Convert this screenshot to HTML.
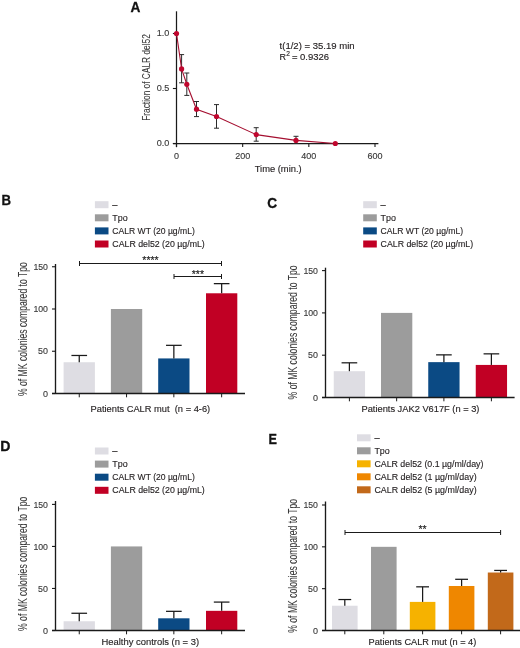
<!DOCTYPE html>
<html><head><meta charset="utf-8"><style>
html,body{margin:0;padding:0;background:#fff;}
body{width:520px;height:648px;overflow:hidden;}
svg{display:block;font-family:"Liberation Sans", sans-serif;will-change:transform;}
</style></head><body>
<svg width="520" height="648" viewBox="0 0 520 648">
<rect width="520" height="648" fill="#fff"/>
<text transform="translate(130.4,11.5) scale(0.95,1)" font-size="14.4" font-weight="bold" fill="#111" stroke="#111" stroke-width="0.3">A</text>
<line x1="176.5" y1="11.3" x2="176.5" y2="147.1" stroke="#1a1a1a" stroke-width="1.25"/>
<line x1="172.9" y1="143.5" x2="378.4" y2="143.5" stroke="#1a1a1a" stroke-width="1.25"/>
<line x1="172.9" y1="33.5" x2="176.5" y2="33.5" stroke="#1a1a1a" stroke-width="1.1"/>
<text x="169.4" y="36.1" font-size="9.7" text-anchor="end" fill="#3a3a3a" font-weight="normal" stroke="#3a3a3a" stroke-width="0.14" textLength="12.6" lengthAdjust="spacingAndGlyphs">1.0</text>
<line x1="172.9" y1="88.5" x2="176.5" y2="88.5" stroke="#1a1a1a" stroke-width="1.1"/>
<text x="169.4" y="91.1" font-size="9.7" text-anchor="end" fill="#3a3a3a" font-weight="normal" stroke="#3a3a3a" stroke-width="0.14" textLength="12.6" lengthAdjust="spacingAndGlyphs">0.5</text>
<line x1="172.9" y1="143.5" x2="176.5" y2="143.5" stroke="#1a1a1a" stroke-width="1.1"/>
<text x="169.4" y="146.1" font-size="9.7" text-anchor="end" fill="#3a3a3a" font-weight="normal" stroke="#3a3a3a" stroke-width="0.14" textLength="12.6" lengthAdjust="spacingAndGlyphs">0.0</text>
<line x1="176.5" y1="143.5" x2="176.5" y2="147.1" stroke="#1a1a1a" stroke-width="1.1"/>
<text x="176.5" y="158.6" font-size="9.7" text-anchor="middle" fill="#3a3a3a" font-weight="normal" stroke="#3a3a3a" stroke-width="0.14" textLength="5.0" lengthAdjust="spacingAndGlyphs">0</text>
<line x1="242.66666666666666" y1="143.5" x2="242.66666666666666" y2="147.1" stroke="#1a1a1a" stroke-width="1.1"/>
<text x="242.66666666666666" y="158.6" font-size="9.7" text-anchor="middle" fill="#3a3a3a" font-weight="normal" stroke="#3a3a3a" stroke-width="0.14" textLength="15.0" lengthAdjust="spacingAndGlyphs">200</text>
<line x1="308.8333333333333" y1="143.5" x2="308.8333333333333" y2="147.1" stroke="#1a1a1a" stroke-width="1.1"/>
<text x="308.8333333333333" y="158.6" font-size="9.7" text-anchor="middle" fill="#3a3a3a" font-weight="normal" stroke="#3a3a3a" stroke-width="0.14" textLength="15.0" lengthAdjust="spacingAndGlyphs">400</text>
<line x1="375.0" y1="143.5" x2="375.0" y2="147.1" stroke="#1a1a1a" stroke-width="1.1"/>
<text x="375.0" y="158.6" font-size="9.7" text-anchor="middle" fill="#3a3a3a" font-weight="normal" stroke="#3a3a3a" stroke-width="0.14" textLength="15.0" lengthAdjust="spacingAndGlyphs">600</text>
<text x="278.2" y="172.2" font-size="9.0" text-anchor="middle" fill="#231f20" font-weight="normal" stroke="#231f20" stroke-width="0.14" textLength="47" lengthAdjust="spacingAndGlyphs">Time (min.)</text>
<text transform="translate(150.4,77.5) rotate(-90)" font-size="10.6" text-anchor="middle" fill="#3a3a3a" stroke="#3a3a3a" stroke-width="0.08" textLength="86.7" lengthAdjust="spacingAndGlyphs">Fraction of CALR del52</text>
<line x1="181.6" y1="54.6" x2="181.6" y2="82.8" stroke="#2a2a2a" stroke-width="1.0"/>
<line x1="179.1" y1="54.6" x2="184.1" y2="54.6" stroke="#2a2a2a" stroke-width="1.0"/>
<line x1="179.1" y1="82.8" x2="184.1" y2="82.8" stroke="#2a2a2a" stroke-width="1.0"/>
<line x1="186.8" y1="73.0" x2="186.8" y2="95.4" stroke="#2a2a2a" stroke-width="1.0"/>
<line x1="184.3" y1="73.0" x2="189.3" y2="73.0" stroke="#2a2a2a" stroke-width="1.0"/>
<line x1="184.3" y1="95.4" x2="189.3" y2="95.4" stroke="#2a2a2a" stroke-width="1.0"/>
<line x1="196.5" y1="101.5" x2="196.5" y2="116.6" stroke="#2a2a2a" stroke-width="1.0"/>
<line x1="194.0" y1="101.5" x2="199.0" y2="101.5" stroke="#2a2a2a" stroke-width="1.0"/>
<line x1="194.0" y1="116.6" x2="199.0" y2="116.6" stroke="#2a2a2a" stroke-width="1.0"/>
<line x1="216.5" y1="104.6" x2="216.5" y2="128.2" stroke="#2a2a2a" stroke-width="1.0"/>
<line x1="214.0" y1="104.6" x2="219.0" y2="104.6" stroke="#2a2a2a" stroke-width="1.0"/>
<line x1="214.0" y1="128.2" x2="219.0" y2="128.2" stroke="#2a2a2a" stroke-width="1.0"/>
<line x1="256.2" y1="127.7" x2="256.2" y2="141.2" stroke="#2a2a2a" stroke-width="1.0"/>
<line x1="253.7" y1="127.7" x2="258.7" y2="127.7" stroke="#2a2a2a" stroke-width="1.0"/>
<line x1="253.7" y1="141.2" x2="258.7" y2="141.2" stroke="#2a2a2a" stroke-width="1.0"/>
<line x1="296.0" y1="136.3" x2="296.0" y2="143.5" stroke="#2a2a2a" stroke-width="1.0"/>
<line x1="293.5" y1="136.3" x2="298.5" y2="136.3" stroke="#2a2a2a" stroke-width="1.0"/>
<line x1="293.5" y1="143.5" x2="298.5" y2="143.5" stroke="#2a2a2a" stroke-width="1.0"/>
<polyline points="176.50,33.50 181.60,68.90 186.80,84.30 196.50,109.20 216.50,116.50 256.20,134.60 296.00,140.40 335.30,143.50" fill="none" stroke="#a50f30" stroke-width="1.1"/>
<circle cx="176.50" cy="33.50" r="2.6" fill="#c0062e"/>
<circle cx="181.60" cy="68.90" r="2.6" fill="#c0062e"/>
<circle cx="186.80" cy="84.30" r="2.6" fill="#c0062e"/>
<circle cx="196.50" cy="109.20" r="2.6" fill="#c0062e"/>
<circle cx="216.50" cy="116.50" r="2.6" fill="#c0062e"/>
<circle cx="256.20" cy="134.60" r="2.6" fill="#c0062e"/>
<circle cx="296.00" cy="140.40" r="2.6" fill="#c0062e"/>
<circle cx="335.30" cy="143.50" r="2.6" fill="#c0062e"/>
<text x="279.6" y="48.7" font-size="9.0" text-anchor="start" fill="#231f20" font-weight="normal" stroke="#231f20" stroke-width="0.14" textLength="75" lengthAdjust="spacingAndGlyphs">t(1/2) = 35.19 min</text>
<text x="279.6" y="59.7" font-size="9.0" text-anchor="start" fill="#231f20" font-weight="normal" stroke="#231f20" stroke-width="0.14">R</text>
<text x="286.2" y="56.1" font-size="6.6" text-anchor="start" fill="#231f20" font-weight="normal" stroke="#231f20" stroke-width="0.14">2</text>
<text x="291.9" y="59.7" font-size="9.0" text-anchor="start" fill="#231f20" font-weight="normal" stroke="#231f20" stroke-width="0.14" textLength="37.2" lengthAdjust="spacingAndGlyphs">= 0.9326</text>
<text transform="translate(1.4,204.9) scale(0.92,1)" font-size="14.4" font-weight="bold" fill="#111" stroke="#111" stroke-width="0.3">B</text>
<rect x="94.90" y="201.20" width="13.60" height="7.00" fill="#dedde3"/>
<text x="112.30000000000001" y="207.7" font-size="9.3" text-anchor="start" fill="#231f20" font-weight="normal" stroke="#231f20" stroke-width="0.14">–</text>
<rect x="94.90" y="214.30" width="13.60" height="7.00" fill="#9c9c9c"/>
<text x="112.30000000000001" y="220.79999999999998" font-size="9.3" text-anchor="start" fill="#231f20" font-weight="normal" stroke="#231f20" stroke-width="0.14" textLength="15.4" lengthAdjust="spacingAndGlyphs">Tpo</text>
<rect x="94.90" y="227.40" width="13.60" height="7.00" fill="#0b4a84"/>
<text x="112.30000000000001" y="233.89999999999998" font-size="9.3" text-anchor="start" fill="#231f20" font-weight="normal" stroke="#231f20" stroke-width="0.14" textLength="82.5" lengthAdjust="spacingAndGlyphs">CALR WT (20 µg/mL)</text>
<rect x="94.90" y="240.50" width="13.60" height="7.00" fill="#c10024"/>
<text x="112.30000000000001" y="247.0" font-size="9.3" text-anchor="start" fill="#231f20" font-weight="normal" stroke="#231f20" stroke-width="0.14" textLength="92.5" lengthAdjust="spacingAndGlyphs">CALR del52 (20 µg/mL)</text>
<rect x="63.60" y="362.24" width="31.30" height="31.26" fill="#dedde3"/>
<rect x="110.90" y="309.00" width="31.30" height="84.50" fill="#9c9c9c"/>
<rect x="158.20" y="358.43" width="31.30" height="35.07" fill="#0b4a84"/>
<rect x="206.00" y="293.28" width="31.30" height="100.22" fill="#c10024"/>
<line x1="79.25" y1="355.475" x2="79.25" y2="362.235" stroke="#1a1a1a" stroke-width="1.25"/>
<line x1="71.425" y1="355.475" x2="87.075" y2="355.475" stroke="#1a1a1a" stroke-width="1.25"/>
<line x1="173.85" y1="345.335" x2="173.85" y2="358.4325" stroke="#1a1a1a" stroke-width="1.25"/>
<line x1="166.025" y1="345.335" x2="181.67499999999998" y2="345.335" stroke="#1a1a1a" stroke-width="1.25"/>
<line x1="221.65" y1="283.65" x2="221.65" y2="293.283" stroke="#1a1a1a" stroke-width="1.25"/>
<line x1="213.82500000000002" y1="283.65" x2="229.475" y2="283.65" stroke="#1a1a1a" stroke-width="1.25"/>
<line x1="55.5" y1="264.0" x2="55.5" y2="393.5" stroke="#1a1a1a" stroke-width="1.35"/>
<line x1="52.0" y1="393.5" x2="245.0" y2="393.5" stroke="#1a1a1a" stroke-width="1.45"/>
<line x1="52.0" y1="266.75" x2="55.5" y2="266.75" stroke="#1a1a1a" stroke-width="1.1"/>
<text x="48.0" y="269.95" font-size="9.8" text-anchor="end" fill="#3a3a3a" font-weight="normal" stroke="#3a3a3a" stroke-width="0.14" textLength="14.6" lengthAdjust="spacingAndGlyphs">150</text>
<line x1="52.0" y1="309.0" x2="55.5" y2="309.0" stroke="#1a1a1a" stroke-width="1.1"/>
<text x="48.0" y="312.2" font-size="9.8" text-anchor="end" fill="#3a3a3a" font-weight="normal" stroke="#3a3a3a" stroke-width="0.14" textLength="14.6" lengthAdjust="spacingAndGlyphs">100</text>
<line x1="52.0" y1="351.25" x2="55.5" y2="351.25" stroke="#1a1a1a" stroke-width="1.1"/>
<text x="48.0" y="354.45" font-size="9.8" text-anchor="end" fill="#3a3a3a" font-weight="normal" stroke="#3a3a3a" stroke-width="0.14" textLength="9.9" lengthAdjust="spacingAndGlyphs">50</text>
<line x1="52.0" y1="393.5" x2="55.5" y2="393.5" stroke="#1a1a1a" stroke-width="1.1"/>
<text x="48.0" y="396.7" font-size="9.8" text-anchor="end" fill="#3a3a3a" font-weight="normal" stroke="#3a3a3a" stroke-width="0.14" textLength="5.0" lengthAdjust="spacingAndGlyphs">0</text>
<line x1="79.25" y1="393.5" x2="79.25" y2="397.3" stroke="#1a1a1a" stroke-width="1.0"/>
<line x1="126.55000000000001" y1="393.5" x2="126.55000000000001" y2="397.3" stroke="#1a1a1a" stroke-width="1.0"/>
<line x1="173.85" y1="393.5" x2="173.85" y2="397.3" stroke="#1a1a1a" stroke-width="1.0"/>
<line x1="221.65" y1="393.5" x2="221.65" y2="397.3" stroke="#1a1a1a" stroke-width="1.0"/>
<text transform="translate(26.6,329.1) rotate(-90)" font-size="12.6" text-anchor="middle" fill="#3a3a3a" stroke="#3a3a3a" stroke-width="0.06" textLength="133.8" lengthAdjust="spacingAndGlyphs">% of MK colonies compared to Tpo</text>
<text x="150.35" y="412.1" font-size="9.2" text-anchor="middle" fill="#231f20" font-weight="normal" stroke="#231f20" stroke-width="0.14" textLength="119.7" lengthAdjust="spacingAndGlyphs">Patients CALR mut&#160; (n = 4-6)</text>
<line x1="79.5" y1="263.5" x2="221.5" y2="263.5" stroke="#1a1a1a" stroke-width="1.0"/>
<line x1="79.5" y1="261.0" x2="79.5" y2="266.0" stroke="#1a1a1a" stroke-width="1.0"/>
<line x1="221.5" y1="261.0" x2="221.5" y2="266.0" stroke="#1a1a1a" stroke-width="1.0"/>
<text x="150.5" y="264.3" font-size="10.5" text-anchor="middle" fill="#222" font-weight="normal" stroke="#222" stroke-width="0.14">****</text>
<line x1="174.0" y1="276.5" x2="221.5" y2="276.5" stroke="#1a1a1a" stroke-width="1.0"/>
<line x1="174.0" y1="274.0" x2="174.0" y2="279.0" stroke="#1a1a1a" stroke-width="1.0"/>
<line x1="221.5" y1="274.0" x2="221.5" y2="279.0" stroke="#1a1a1a" stroke-width="1.0"/>
<text x="197.9" y="277.6" font-size="10.5" text-anchor="middle" fill="#222" font-weight="normal" stroke="#222" stroke-width="0.14">***</text>
<text transform="translate(267.2,207.5) scale(0.95,1)" font-size="14.4" font-weight="bold" fill="#111" stroke="#111" stroke-width="0.3">C</text>
<rect x="363.20" y="201.20" width="13.60" height="7.00" fill="#dedde3"/>
<text x="380.59999999999997" y="207.7" font-size="9.3" text-anchor="start" fill="#231f20" font-weight="normal" stroke="#231f20" stroke-width="0.14">–</text>
<rect x="363.20" y="214.30" width="13.60" height="7.00" fill="#9c9c9c"/>
<text x="380.59999999999997" y="220.79999999999998" font-size="9.3" text-anchor="start" fill="#231f20" font-weight="normal" stroke="#231f20" stroke-width="0.14" textLength="15.4" lengthAdjust="spacingAndGlyphs">Tpo</text>
<rect x="363.20" y="227.40" width="13.60" height="7.00" fill="#0b4a84"/>
<text x="380.59999999999997" y="233.89999999999998" font-size="9.3" text-anchor="start" fill="#231f20" font-weight="normal" stroke="#231f20" stroke-width="0.14" textLength="82.5" lengthAdjust="spacingAndGlyphs">CALR WT (20 µg/mL)</text>
<rect x="363.20" y="240.50" width="13.60" height="7.00" fill="#c10024"/>
<text x="380.59999999999997" y="247.0" font-size="9.3" text-anchor="start" fill="#231f20" font-weight="normal" stroke="#231f20" stroke-width="0.14" textLength="92.5" lengthAdjust="spacingAndGlyphs">CALR del52 (20 µg/mL)</text>
<rect x="333.75" y="371.19" width="31.30" height="26.31" fill="#dedde3"/>
<rect x="381.00" y="312.90" width="31.30" height="84.60" fill="#9c9c9c"/>
<rect x="428.25" y="362.14" width="31.30" height="35.36" fill="#0b4a84"/>
<rect x="475.75" y="364.93" width="31.30" height="32.57" fill="#c10024"/>
<line x1="349.4" y1="362.814" x2="349.4" y2="371.1894" stroke="#1a1a1a" stroke-width="1.25"/>
<line x1="341.575" y1="362.814" x2="357.22499999999997" y2="362.814" stroke="#1a1a1a" stroke-width="1.25"/>
<line x1="443.9" y1="354.8616" x2="443.9" y2="362.1372" stroke="#1a1a1a" stroke-width="1.25"/>
<line x1="436.075" y1="354.8616" x2="451.72499999999997" y2="354.8616" stroke="#1a1a1a" stroke-width="1.25"/>
<line x1="491.4" y1="353.8464" x2="491.4" y2="364.929" stroke="#1a1a1a" stroke-width="1.25"/>
<line x1="483.575" y1="353.8464" x2="499.22499999999997" y2="353.8464" stroke="#1a1a1a" stroke-width="1.25"/>
<line x1="325.5" y1="267.7" x2="325.5" y2="397.5" stroke="#1a1a1a" stroke-width="1.35"/>
<line x1="322.0" y1="397.5" x2="514.6" y2="397.5" stroke="#1a1a1a" stroke-width="1.45"/>
<line x1="322.0" y1="270.6" x2="325.5" y2="270.6" stroke="#1a1a1a" stroke-width="1.1"/>
<text x="318.0" y="273.8" font-size="9.8" text-anchor="end" fill="#3a3a3a" font-weight="normal" stroke="#3a3a3a" stroke-width="0.14" textLength="14.6" lengthAdjust="spacingAndGlyphs">150</text>
<line x1="322.0" y1="312.90000000000003" x2="325.5" y2="312.90000000000003" stroke="#1a1a1a" stroke-width="1.1"/>
<text x="318.0" y="316.1" font-size="9.8" text-anchor="end" fill="#3a3a3a" font-weight="normal" stroke="#3a3a3a" stroke-width="0.14" textLength="14.6" lengthAdjust="spacingAndGlyphs">100</text>
<line x1="322.0" y1="355.2" x2="325.5" y2="355.2" stroke="#1a1a1a" stroke-width="1.1"/>
<text x="318.0" y="358.4" font-size="9.8" text-anchor="end" fill="#3a3a3a" font-weight="normal" stroke="#3a3a3a" stroke-width="0.14" textLength="9.9" lengthAdjust="spacingAndGlyphs">50</text>
<line x1="322.0" y1="397.5" x2="325.5" y2="397.5" stroke="#1a1a1a" stroke-width="1.1"/>
<text x="318.0" y="400.7" font-size="9.8" text-anchor="end" fill="#3a3a3a" font-weight="normal" stroke="#3a3a3a" stroke-width="0.14" textLength="5.0" lengthAdjust="spacingAndGlyphs">0</text>
<line x1="349.4" y1="397.5" x2="349.4" y2="401.3" stroke="#1a1a1a" stroke-width="1.0"/>
<line x1="396.65" y1="397.5" x2="396.65" y2="401.3" stroke="#1a1a1a" stroke-width="1.0"/>
<line x1="443.9" y1="397.5" x2="443.9" y2="401.3" stroke="#1a1a1a" stroke-width="1.0"/>
<line x1="491.4" y1="397.5" x2="491.4" y2="401.3" stroke="#1a1a1a" stroke-width="1.0"/>
<text transform="translate(296.6,332.4) rotate(-90)" font-size="12.6" text-anchor="middle" fill="#3a3a3a" stroke="#3a3a3a" stroke-width="0.06" textLength="134.0" lengthAdjust="spacingAndGlyphs">% of MK colonies compared to Tpo</text>
<text x="420.45" y="411.9" font-size="9.2" text-anchor="middle" fill="#231f20" font-weight="normal" stroke="#231f20" stroke-width="0.14" textLength="117.9" lengthAdjust="spacingAndGlyphs">Patients JAK2 V617F (n = 3)</text>
<text transform="translate(0.2,450.8) scale(0.98,1)" font-size="14.4" font-weight="bold" fill="#111" stroke="#111" stroke-width="0.3">D</text>
<rect x="94.90" y="447.50" width="13.60" height="7.00" fill="#dedde3"/>
<text x="112.30000000000001" y="454.0" font-size="9.3" text-anchor="start" fill="#231f20" font-weight="normal" stroke="#231f20" stroke-width="0.14">–</text>
<rect x="94.90" y="460.60" width="13.60" height="7.00" fill="#9c9c9c"/>
<text x="112.30000000000001" y="467.1" font-size="9.3" text-anchor="start" fill="#231f20" font-weight="normal" stroke="#231f20" stroke-width="0.14" textLength="15.4" lengthAdjust="spacingAndGlyphs">Tpo</text>
<rect x="94.90" y="473.70" width="13.60" height="7.00" fill="#0b4a84"/>
<text x="112.30000000000001" y="480.2" font-size="9.3" text-anchor="start" fill="#231f20" font-weight="normal" stroke="#231f20" stroke-width="0.14" textLength="82.5" lengthAdjust="spacingAndGlyphs">CALR WT (20 µg/mL)</text>
<rect x="94.90" y="486.80" width="13.60" height="7.00" fill="#c10024"/>
<text x="112.30000000000001" y="493.3" font-size="9.3" text-anchor="start" fill="#231f20" font-weight="normal" stroke="#231f20" stroke-width="0.14" textLength="92.5" lengthAdjust="spacingAndGlyphs">CALR del52 (20 µg/mL)</text>
<rect x="63.60" y="621.25" width="31.30" height="9.25" fill="#dedde3"/>
<rect x="110.90" y="546.43" width="31.30" height="84.07" fill="#9c9c9c"/>
<rect x="158.20" y="618.31" width="31.30" height="12.19" fill="#0b4a84"/>
<rect x="206.00" y="610.83" width="31.30" height="19.67" fill="#c10024"/>
<line x1="79.25" y1="613.2663333333334" x2="79.25" y2="621.2526666666666" stroke="#1a1a1a" stroke-width="1.25"/>
<line x1="71.425" y1="613.2663333333334" x2="87.075" y2="613.2663333333334" stroke="#1a1a1a" stroke-width="1.25"/>
<line x1="173.85" y1="611.3328" x2="173.85" y2="618.3103333333333" stroke="#1a1a1a" stroke-width="1.25"/>
<line x1="166.025" y1="611.3328" x2="181.67499999999998" y2="611.3328" stroke="#1a1a1a" stroke-width="1.25"/>
<line x1="221.65" y1="602.0854666666667" x2="221.65" y2="610.8284" stroke="#1a1a1a" stroke-width="1.25"/>
<line x1="213.82500000000002" y1="602.0854666666667" x2="229.475" y2="602.0854666666667" stroke="#1a1a1a" stroke-width="1.25"/>
<line x1="55.5" y1="501.0" x2="55.5" y2="630.5" stroke="#1a1a1a" stroke-width="1.35"/>
<line x1="52.0" y1="630.5" x2="245.0" y2="630.5" stroke="#1a1a1a" stroke-width="1.45"/>
<line x1="52.0" y1="504.4" x2="55.5" y2="504.4" stroke="#1a1a1a" stroke-width="1.1"/>
<text x="48.0" y="507.59999999999997" font-size="9.8" text-anchor="end" fill="#3a3a3a" font-weight="normal" stroke="#3a3a3a" stroke-width="0.14" textLength="14.6" lengthAdjust="spacingAndGlyphs">150</text>
<line x1="52.0" y1="546.4333333333333" x2="55.5" y2="546.4333333333333" stroke="#1a1a1a" stroke-width="1.1"/>
<text x="48.0" y="549.6333333333333" font-size="9.8" text-anchor="end" fill="#3a3a3a" font-weight="normal" stroke="#3a3a3a" stroke-width="0.14" textLength="14.6" lengthAdjust="spacingAndGlyphs">100</text>
<line x1="52.0" y1="588.4666666666667" x2="55.5" y2="588.4666666666667" stroke="#1a1a1a" stroke-width="1.1"/>
<text x="48.0" y="591.6666666666667" font-size="9.8" text-anchor="end" fill="#3a3a3a" font-weight="normal" stroke="#3a3a3a" stroke-width="0.14" textLength="9.9" lengthAdjust="spacingAndGlyphs">50</text>
<line x1="52.0" y1="630.5" x2="55.5" y2="630.5" stroke="#1a1a1a" stroke-width="1.1"/>
<text x="48.0" y="633.7" font-size="9.8" text-anchor="end" fill="#3a3a3a" font-weight="normal" stroke="#3a3a3a" stroke-width="0.14" textLength="5.0" lengthAdjust="spacingAndGlyphs">0</text>
<line x1="79.25" y1="630.5" x2="79.25" y2="634.3" stroke="#1a1a1a" stroke-width="1.0"/>
<line x1="126.55000000000001" y1="630.5" x2="126.55000000000001" y2="634.3" stroke="#1a1a1a" stroke-width="1.0"/>
<line x1="173.85" y1="630.5" x2="173.85" y2="634.3" stroke="#1a1a1a" stroke-width="1.0"/>
<line x1="221.65" y1="630.5" x2="221.65" y2="634.3" stroke="#1a1a1a" stroke-width="1.0"/>
<text transform="translate(26.6,563.85) rotate(-90)" font-size="12.6" text-anchor="middle" fill="#3a3a3a" stroke="#3a3a3a" stroke-width="0.06" textLength="134.3" lengthAdjust="spacingAndGlyphs">% of MK colonies compared to Tpo</text>
<text x="150.3" y="644.6" font-size="9.2" text-anchor="middle" fill="#231f20" font-weight="normal" stroke="#231f20" stroke-width="0.14" textLength="97.6" lengthAdjust="spacingAndGlyphs">Healthy controls (n = 3)</text>
<text transform="translate(268.4,444.0) scale(0.88,1)" font-size="14.4" font-weight="bold" fill="#111" stroke="#111" stroke-width="0.3">E</text>
<rect x="357.00" y="434.30" width="13.60" height="7.00" fill="#dedde3"/>
<text x="374.4" y="440.8" font-size="9.3" text-anchor="start" fill="#231f20" font-weight="normal" stroke="#231f20" stroke-width="0.14">–</text>
<rect x="357.00" y="447.30" width="13.60" height="7.00" fill="#9c9c9c"/>
<text x="374.4" y="453.8" font-size="9.3" text-anchor="start" fill="#231f20" font-weight="normal" stroke="#231f20" stroke-width="0.14" textLength="15.4" lengthAdjust="spacingAndGlyphs">Tpo</text>
<rect x="357.00" y="460.30" width="13.60" height="7.00" fill="#f6b200"/>
<text x="374.4" y="466.8" font-size="9.3" text-anchor="start" fill="#231f20" font-weight="normal" stroke="#231f20" stroke-width="0.14" textLength="109" lengthAdjust="spacingAndGlyphs">CALR del52 (0.1 µg/ml/day)</text>
<rect x="357.00" y="473.30" width="13.60" height="7.00" fill="#ef8700"/>
<text x="374.4" y="479.8" font-size="9.3" text-anchor="start" fill="#231f20" font-weight="normal" stroke="#231f20" stroke-width="0.14" textLength="102.2" lengthAdjust="spacingAndGlyphs">CALR del52 (1 µg/ml/day)</text>
<rect x="357.00" y="486.30" width="13.60" height="7.00" fill="#c2691a"/>
<text x="374.4" y="492.8" font-size="9.3" text-anchor="start" fill="#231f20" font-weight="normal" stroke="#231f20" stroke-width="0.14" textLength="102.2" lengthAdjust="spacingAndGlyphs">CALR del52 (5 µg/ml/day)</text>
<rect x="332.00" y="605.73" width="25.60" height="24.77" fill="#dedde3"/>
<rect x="371.00" y="546.83" width="25.60" height="83.67" fill="#9c9c9c"/>
<rect x="409.80" y="601.89" width="25.60" height="28.61" fill="#f6b200"/>
<rect x="448.80" y="585.99" width="25.60" height="44.51" fill="#ef8700"/>
<rect x="487.80" y="572.52" width="25.60" height="57.98" fill="#c2691a"/>
<line x1="344.8" y1="599.5433333333333" x2="344.8" y2="605.7346666666666" stroke="#1a1a1a" stroke-width="1.25"/>
<line x1="338.40000000000003" y1="599.5433333333333" x2="351.2" y2="599.5433333333333" stroke="#1a1a1a" stroke-width="1.25"/>
<line x1="422.6" y1="586.826" x2="422.6" y2="601.886" stroke="#1a1a1a" stroke-width="1.25"/>
<line x1="416.20000000000005" y1="586.826" x2="429.0" y2="586.826" stroke="#1a1a1a" stroke-width="1.25"/>
<line x1="461.6" y1="579.296" x2="461.6" y2="585.9893333333333" stroke="#1a1a1a" stroke-width="1.25"/>
<line x1="455.20000000000005" y1="579.296" x2="468.0" y2="579.296" stroke="#1a1a1a" stroke-width="1.25"/>
<line x1="500.6" y1="570.4273333333333" x2="500.6" y2="572.519" stroke="#1a1a1a" stroke-width="1.25"/>
<line x1="494.20000000000005" y1="570.4273333333333" x2="507.0" y2="570.4273333333333" stroke="#1a1a1a" stroke-width="1.25"/>
<line x1="325.5" y1="501.5" x2="325.5" y2="630.5" stroke="#1a1a1a" stroke-width="1.35"/>
<line x1="322.0" y1="630.5" x2="520.0" y2="630.5" stroke="#1a1a1a" stroke-width="1.45"/>
<line x1="322.0" y1="505.0" x2="325.5" y2="505.0" stroke="#1a1a1a" stroke-width="1.1"/>
<text x="318.0" y="508.2" font-size="9.8" text-anchor="end" fill="#3a3a3a" font-weight="normal" stroke="#3a3a3a" stroke-width="0.14" textLength="14.6" lengthAdjust="spacingAndGlyphs">150</text>
<line x1="322.0" y1="546.8333333333334" x2="325.5" y2="546.8333333333334" stroke="#1a1a1a" stroke-width="1.1"/>
<text x="318.0" y="550.0333333333334" font-size="9.8" text-anchor="end" fill="#3a3a3a" font-weight="normal" stroke="#3a3a3a" stroke-width="0.14" textLength="14.6" lengthAdjust="spacingAndGlyphs">100</text>
<line x1="322.0" y1="588.6666666666666" x2="325.5" y2="588.6666666666666" stroke="#1a1a1a" stroke-width="1.1"/>
<text x="318.0" y="591.8666666666667" font-size="9.8" text-anchor="end" fill="#3a3a3a" font-weight="normal" stroke="#3a3a3a" stroke-width="0.14" textLength="9.9" lengthAdjust="spacingAndGlyphs">50</text>
<line x1="322.0" y1="630.5" x2="325.5" y2="630.5" stroke="#1a1a1a" stroke-width="1.1"/>
<text x="318.0" y="633.7" font-size="9.8" text-anchor="end" fill="#3a3a3a" font-weight="normal" stroke="#3a3a3a" stroke-width="0.14" textLength="5.0" lengthAdjust="spacingAndGlyphs">0</text>
<line x1="344.8" y1="630.5" x2="344.8" y2="634.3" stroke="#1a1a1a" stroke-width="1.0"/>
<line x1="383.8" y1="630.5" x2="383.8" y2="634.3" stroke="#1a1a1a" stroke-width="1.0"/>
<line x1="422.6" y1="630.5" x2="422.6" y2="634.3" stroke="#1a1a1a" stroke-width="1.0"/>
<line x1="461.6" y1="630.5" x2="461.6" y2="634.3" stroke="#1a1a1a" stroke-width="1.0"/>
<line x1="500.6" y1="630.5" x2="500.6" y2="634.3" stroke="#1a1a1a" stroke-width="1.0"/>
<text transform="translate(296.6,565.85) rotate(-90)" font-size="12.6" text-anchor="middle" fill="#3a3a3a" stroke="#3a3a3a" stroke-width="0.06" textLength="133.7" lengthAdjust="spacingAndGlyphs">% of MK colonies compared to Tpo</text>
<text x="422.45" y="645.0" font-size="9.2" text-anchor="middle" fill="#231f20" font-weight="normal" stroke="#231f20" stroke-width="0.14" textLength="107.7" lengthAdjust="spacingAndGlyphs">Patients CALR mut (n = 4)</text>
<line x1="345.0" y1="532.5" x2="500.6" y2="532.5" stroke="#1a1a1a" stroke-width="1.0"/>
<line x1="345.0" y1="530.0" x2="345.0" y2="535.0" stroke="#1a1a1a" stroke-width="1.0"/>
<line x1="500.6" y1="530.0" x2="500.6" y2="535.0" stroke="#1a1a1a" stroke-width="1.0"/>
<text x="422.5" y="533.0" font-size="10.5" text-anchor="middle" fill="#222" font-weight="normal" stroke="#222" stroke-width="0.14">**</text>
</svg>
</body></html>
